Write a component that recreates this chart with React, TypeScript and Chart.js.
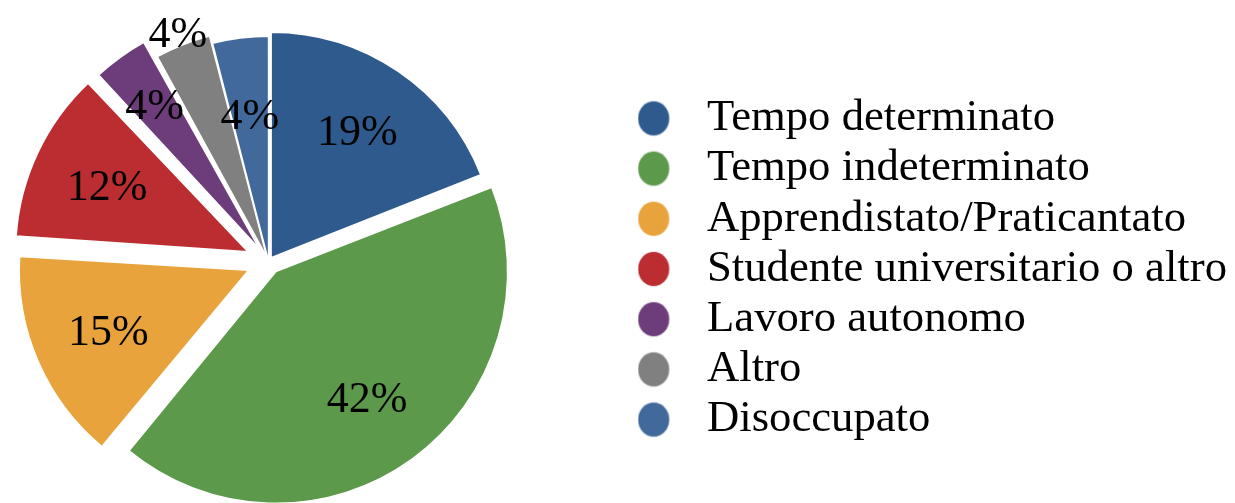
import React, { useEffect, useRef, useState } from "react";
import { Chart, registerables } from "chart.js";

Chart.register(...registerables);

const categories = [
  "Tempo determinato",
  "Tempo indeterminato",
  "Apprendistato/Praticantato",
  "Studente universitario o altro",
  "Lavoro autonomo",
  "Altro",
  "Disoccupato",
];
const values = [19, 42, 15, 12, 4, 4, 4];
const valueLabels = ["19%", "42%", "15%", "12%", "4%", "4%", "4%"];

const colors = ["#2E5A8D", "#5D994A", "#E8A33C", "#BB2D31", "#6D3C7A", "#7F807F", "#41699C"];
const explode = [18, 50, 87, 91, 62, 18, 0];
const labelRadius = [0.68, 0.66, 0.66, 0.66, 0.74, 1.06, 0.66];

const FAMILY = "'Liberation Serif', serif";
const FONT_SIZE = 44;
const LEGEND_FONT = 44.7;
const CANVAS_H = 543;
const CANVAS_LEFT = -95;
const CANVAS_TOP = -10;
const PIE_AREA_W = 726;

function makeMarker(color: string) {
  const c = document.createElement("canvas");
  c.width = 47;
  c.height = 38;
  const g = c.getContext("2d")!;
  g.fillStyle = color;
  g.beginPath();
  g.ellipse(16, 19, 16, 17.5, 0, 0, Math.PI * 2);
  g.fill();
  g.strokeStyle = "rgba(255,255,255,0.8)";
  g.lineWidth = 1;
  g.stroke();
  return c;
}

const sliceLabels = {
  id: "sliceLabels",
  afterDatasetsDraw(chart: any) {
    const ctx = chart.ctx;
    const meta = chart.getDatasetMeta(0);
    ctx.save();
    ctx.font = `${FONT_SIZE}px ${FAMILY}`;
    ctx.fillStyle = "#000";
    ctx.textAlign = "center";
    ctx.textBaseline = "middle";
    meta.data.forEach((arc: any, i: number) => {
      const p = arc.getProps(["x", "y", "startAngle", "endAngle", "outerRadius", "circumference"], true);
      const mid = (p.startAngle + p.endAngle) / 2;
      const off = (arc.options.offset || 0) / 4;
      const fix = 1 - Math.sin(Math.min(Math.PI, p.circumference || 0));
      const d = off + off * fix;
      const cx = p.x + Math.cos(mid) * d;
      const cy = p.y + Math.sin(mid) * d;
      const r = p.outerRadius * labelRadius[i];
      ctx.fillText(valueLabels[i], cx + Math.cos(mid) * r, cy + Math.sin(mid) * r + 3);
    });
    ctx.restore();
  },
};

export default function App() {
  const ref = useRef<HTMLCanvasElement | null>(null);
  const [width] = useState(() => {
    const c = document.createElement("canvas");
    const g = c.getContext("2d")!;
    g.font = `${LEGEND_FONT}px ${FAMILY}`;
    let m = 0;
    categories.forEach((t) => (m = Math.max(m, g.measureText(t).width)));
    return PIE_AREA_W + 6 + 47 + LEGEND_FONT / 2 + 10 + m;
  });

  useEffect(() => {
    if (!ref.current) return;
    const markers = colors.map(makeMarker);
    const chart = new Chart(ref.current, {
      type: "pie",
      data: {
        labels: categories,
        datasets: [
          {
            data: values,
            backgroundColor: colors,
            borderColor: "#ffffff",
            borderWidth: 1.5,
            offset: explode,
            hoverOffset: 0,
          },
        ],
      },
      options: {
        responsive: false,
        animation: false,
        layout: { padding: 0 },
        plugins: {
          tooltip: { enabled: false },
          legend: {
            position: "right",
            align: "center",
            title: { display: true, text: "", font: { size: 15, lineHeight: 1 }, padding: 0 },
            labels: {
              font: { family: FAMILY, size: LEGEND_FONT },
              color: "#000",
              usePointStyle: true,
              pointStyleWidth: 47,
              padding: 5.5,
              generateLabels: () =>
                categories.map((t, i) => ({
                  text: t,
                  fillStyle: colors[i],
                  strokeStyle: colors[i],
                  lineWidth: 0,
                  pointStyle: markers[i],
                  fontColor: "#000",
                  hidden: false,
                  index: i,
                })),
            },
          },
        },
      },
      plugins: [sliceLabels],
    });
    return () => chart.destroy();
  }, [width]);

  return (
    <div
      style={{
        position: "fixed",
        left: 0,
        top: 0,
        width: 1235,
        height: 503,
        overflow: "hidden",
        background: "#fff",
      }}
    >
      <canvas
        ref={ref}
        width={Math.ceil(width)}
        height={CANVAS_H}
        style={{ position: "absolute", left: CANVAS_LEFT, top: CANVAS_TOP, width: Math.ceil(width), height: CANVAS_H }}
      />
    </div>
  );
}
